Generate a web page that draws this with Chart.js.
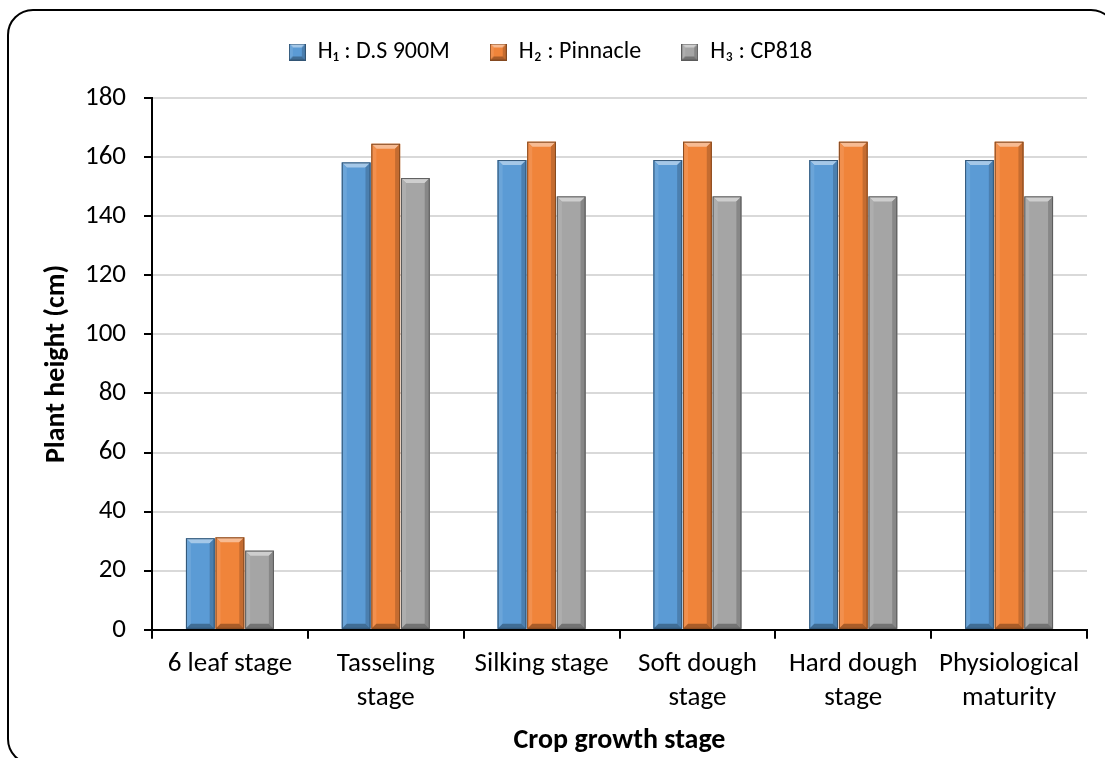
<!DOCTYPE html>
<html>
<head>
<meta charset="utf-8">
<script src="https://cdn.jsdelivr.net/npm/chart.js@4.4.1/dist/chart.umd.min.js"></script>
<style>
  html, body { margin: 0; padding: 0; background: #fff; overflow: hidden; }
  #wrap { position: relative; width: 1105px; height: 758px; }
  #frame {
    position: absolute; left: 7px; top: 9px; width: 1110px; height: 756px;
    border: 2.5px solid #000; border-radius: 26px; box-sizing: border-box;
    pointer-events: none;
  }
  canvas { position: absolute; left: 0; top: 0; }
</style>
</head>
<body>
<div id="wrap">
  <canvas id="chart" width="1105" height="758"></canvas>
  <div id="frame"></div>
</div>
<script>
// data
const stages = [
    ['6 leaf stage'],
    ['Tasseling', 'stage'],
    ['Silking stage'],
    ['Soft dough', 'stage'],
    ['Hard dough', 'stage'],
    ['Physiological', 'maturity']
];
const seriesNames = ['H\u2081 : D.S 900M', 'H\u2082 : Pinnacle', 'H\u2083 : CP818'];
const h1Values = [31.0, 158.2, 159.0, 159.0, 159.0, 159.0];
const h2Values = [31.3, 164.5, 165.2, 165.2, 165.2, 165.2];
const h3Values = [26.8, 152.9, 146.7, 146.7, 146.7, 146.7];
const seriesColors = ['#5B9BD5', '#F0843A', '#A5A5A5'];
const yTicks = [0, 20, 40, 60, 80, 100, 120, 140, 160, 180];

const FONT = "Carlito, Lato, 'Open Sans', sans-serif";

function shade(hex, amt) {
    const n = parseInt(hex.slice(1), 16);
    let r = (n >> 16) & 255, g = (n >> 8) & 255, b = n & 255;
    const f = c => Math.max(0, Math.min(255, Math.round(amt > 0 ? c + (255 - c) * amt : c * (1 + amt))));
    return `rgb(${f(r)},${f(g)},${f(b)})`;
}

// bevelled rectangle, like Excel's "shape effect"
function drawBevel(ctx, base, x0, y0, x1, y1, b) {
    ctx.save();
    ctx.fillStyle = base;
    ctx.fillRect(x0, y0, x1 - x0, y1 - y0);
    const facet = (col, pts) => {
        ctx.fillStyle = col;
        ctx.beginPath();
        ctx.moveTo(pts[0], pts[1]);
        for (let i = 2; i < pts.length; i += 2) ctx.lineTo(pts[i], pts[i + 1]);
        ctx.closePath();
        ctx.fill();
    };
    facet(shade(base, 0.45), [x0, y0, x1, y0, x1 - b, y0 + b, x0 + b, y0 + b]);
    facet(shade(base, 0.1), [x0, y0, x0 + b, y0 + b, x0 + b, y1 - b, x0, y1]);
    facet(shade(base, -0.18), [x1, y0, x1 - b, y0 + b, x1 - b, y1 - b, x1, y1]);
    facet(shade(base, -0.3), [x0, y1, x0 + b, y1 - b, x1 - b, y1 - b, x1, y1]);
    ctx.strokeStyle = shade(base, -0.45);
    ctx.lineWidth = 1;
    ctx.strokeRect(x0 + 0.5, y0 + 0.5, x1 - x0 - 1, y1 - y0 - 1);
    ctx.restore();
}

const bevelPlugin = {
    id: 'bevel',
    afterDatasetsDraw(chart) {
        const ctx = chart.ctx;
        chart.data.datasets.forEach((ds, di) => {
            const meta = chart.getDatasetMeta(di);
            meta.data.forEach(bar => {
                drawBevel(ctx, seriesColors[di], bar.x - bar.width / 2, bar.y, bar.x + bar.width / 2, bar.base, 5);
            });
        });
    }
};

// extra room under the legend
const legendGap = {
    id: 'legendGap',
    beforeInit(chart) {
        const fit = chart.legend.fit;
        chart.legend.fit = function () {
            fit.call(this);
            this.height += 24;
        };
    }
};

// legend swatches with the same bevel
const swatches = seriesColors.map(c => {
    const cv = document.createElement('canvas');
    cv.width = 17; cv.height = 17;
    drawBevel(cv.getContext('2d'), c, 0, 0, 17, 17, 4);
    return cv;
});

const datasets = [h1Values, h2Values, h3Values].map((vals, i) => ({
    label: seriesNames[i],
    data: vals,
    backgroundColor: seriesColors[i],
    borderColor: shade(seriesColors[i], -0.45),
    borderWidth: 1,
    pointStyle: swatches[i],
    barPercentage: 0.97,
    categoryPercentage: 0.57
}));

new Chart(document.getElementById('chart'), {
    type: 'bar',
    data: { labels: stages, datasets: datasets },
    options: {
        responsive: false,
        animation: false,
        layout: { padding: { left: 14, right: 18, top: 0, bottom: 0 } },
        plugins: {
            legend: {
                position: 'top',
                labels: {
                    font: { family: FONT, size: 24 },
                    color: '#000',
                    usePointStyle: true,
                    boxWidth: 17,
                    boxHeight: 17,
                    padding: 40
                }
            },
            tooltip: { enabled: false }
        },
        scales: {
            x: {
                grid: { display: true, drawOnChartArea: false, drawTicks: true, tickLength: 9, color: '#000', lineWidth: 2, offset: true },
                border: { color: '#000', width: 2 },
                ticks: { font: { family: FONT, size: 27, lineHeight: 1.27 }, color: '#000', padding: 8, maxRotation: 0 },
                title: { display: true, text: 'Crop growth stage', font: { family: FONT, size: 28, weight: 'bold' }, color: '#000', padding: { top: 1, bottom: 0 } }
            },
            y: {
                min: 0, max: 180,
                afterBuildTicks: axis => { axis.ticks = yTicks.map(v => ({ value: v })); },
                afterFit: axis => { axis.width = 138; },
                grid: { color: '#D9D9D9', lineWidth: 2, tickLength: 8, tickColor: '#000' },
                border: { color: '#000', width: 2 },
                ticks: { font: { family: FONT, size: 27 }, color: '#000', padding: 18 },
                title: { display: true, text: 'Plant height (cm)', font: { family: FONT, size: 28, weight: 'bold' }, color: '#000', padding: { top: 26, bottom: 0 } }
            }
        }
    },
    plugins: [legendGap, bevelPlugin]
});
</script>
</body>
</html>
